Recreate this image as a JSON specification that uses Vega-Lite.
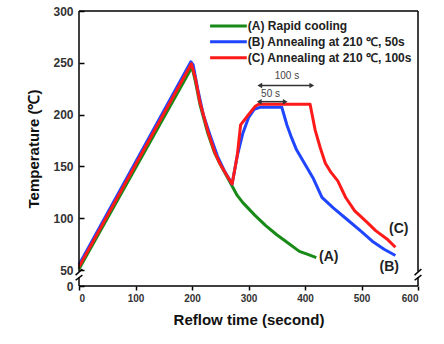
{
  "$schema": "https://vega.github.io/schema/vega-lite/v6.json",
  "autosize": {"type": "none"},
  "padding": {"left": 79, "top": 11, "right": 26, "bottom": 58},
  "width": 339,
  "height": 275,
  "background": "white",
  "config": {
    "view": {"stroke": null},
    "font": "Liberation Sans"
  },
  "datasets": {
    "curves": [
      {"t": 0, "temp": 51, "s": "A"}, {"t": 200, "temp": 246, "s": "A"}, {"t": 206, "temp": 232, "s": "A"}, {"t": 214, "temp": 210, "s": "A"}, {"t": 228, "temp": 182, "s": "A"}, {"t": 240, "temp": 163, "s": "A"}, {"t": 250, "temp": 152, "s": "A"}, {"t": 262, "temp": 140, "s": "A"}, {"t": 270, "temp": 132, "s": "A"}, {"t": 280, "temp": 122, "s": "A"}, {"t": 290, "temp": 115, "s": "A"}, {"t": 311, "temp": 103, "s": "A"}, {"t": 330, "temp": 93, "s": "A"}, {"t": 350, "temp": 84, "s": "A"}, {"t": 370, "temp": 76, "s": "A"}, {"t": 390, "temp": 68, "s": "A"}, {"t": 405, "temp": 65, "s": "A"}, {"t": 420, "temp": 62, "s": "A"},
      {"t": 0, "temp": 55, "s": "B"}, {"t": 198, "temp": 251, "s": "B"}, {"t": 202, "temp": 248, "s": "B"}, {"t": 210, "temp": 225, "s": "B"}, {"t": 220, "temp": 200, "s": "B"}, {"t": 232, "temp": 180, "s": "B"}, {"t": 245, "temp": 160, "s": "B"}, {"t": 258, "temp": 145, "s": "B"}, {"t": 271, "temp": 133, "s": "B"}, {"t": 280, "temp": 160, "s": "B"}, {"t": 290, "temp": 182, "s": "B"}, {"t": 300, "temp": 197, "s": "B"}, {"t": 310, "temp": 205, "s": "B"}, {"t": 320, "temp": 207, "s": "B"}, {"t": 359, "temp": 207, "s": "B"}, {"t": 368, "temp": 190, "s": "B"}, {"t": 376, "temp": 178, "s": "B"}, {"t": 385, "temp": 166, "s": "B"}, {"t": 400, "temp": 152, "s": "B"}, {"t": 415, "temp": 138, "s": "B"}, {"t": 430, "temp": 120, "s": "B"}, {"t": 450, "temp": 110, "s": "B"}, {"t": 474, "temp": 99, "s": "B"}, {"t": 500, "temp": 87, "s": "B"}, {"t": 521, "temp": 77, "s": "B"}, {"t": 540, "temp": 70, "s": "B"}, {"t": 560, "temp": 64, "s": "B"},
      {"t": 0, "temp": 53, "s": "C"}, {"t": 199, "temp": 249, "s": "C"}, {"t": 206, "temp": 235, "s": "C"}, {"t": 214, "temp": 212, "s": "C"}, {"t": 228, "temp": 184, "s": "C"}, {"t": 240, "temp": 164, "s": "C"}, {"t": 250, "temp": 152, "s": "C"}, {"t": 262, "temp": 141, "s": "C"}, {"t": 271, "temp": 133, "s": "C"}, {"t": 280, "temp": 160, "s": "C"}, {"t": 286, "temp": 190, "s": "C"}, {"t": 300, "temp": 200, "s": "C"}, {"t": 312, "temp": 208, "s": "C"}, {"t": 318, "temp": 210, "s": "C"}, {"t": 409, "temp": 210, "s": "C"}, {"t": 418, "temp": 185, "s": "C"}, {"t": 427, "temp": 168, "s": "C"}, {"t": 436, "temp": 153, "s": "C"}, {"t": 445, "temp": 145, "s": "C"}, {"t": 458, "temp": 136, "s": "C"}, {"t": 472, "temp": 120, "s": "C"}, {"t": 488, "temp": 107, "s": "C"}, {"t": 500, "temp": 101, "s": "C"}, {"t": 510, "temp": 96, "s": "C"}, {"t": 525, "temp": 88, "s": "C"}, {"t": 545, "temp": 80, "s": "C"}, {"t": 560, "temp": 72, "s": "C"}
    ],
    "legend": [
      {"s": "A", "x1": 232, "x2": 297, "y": 285.6, "label": "(A) Rapid cooling"},
      {"s": "B", "x1": 232, "x2": 297, "y": 270.2, "label": "(B) Annealing at 210 ℃, 50s"},
      {"s": "C", "x1": 232, "x2": 297, "y": 254.8, "label": "(C) Annealing at 210 ℃, 100s"}
    ],
    "tags": [
      {"x": 442, "y": 62.6, "label": "(A)"},
      {"x": 549, "y": 53, "label": "(B)"},
      {"x": 566, "y": 89.4, "label": "(C)"}
    ],
    "arrows": [
      {"x1": 320, "x2": 412, "y": 228, "tx": 368, "ty": 237, "label": "100 s"},
      {"x1": 319, "x2": 365, "y": 212.5, "tx": 339, "ty": 220, "label": "50 s"}
    ],
    "frame": [
      {"x1": 0, "x2": 0, "y1": 0, "y2": 27},
      {"x1": 0, "x2": 0, "y1": 45, "y2": 300},
      {"x1": 600, "x2": 600, "y1": 0, "y2": 27},
      {"x1": 600, "x2": 600, "y1": 45, "y2": 300},
      {"x1": 0, "x2": 600, "y1": 300, "y2": 300},
      {"x1": 0, "x2": 600, "y1": 0, "y2": 0}
    ],
    "slashes": [
      {"x1": -6, "y1": 18, "x2": 6, "y2": 34},
      {"x1": -6, "y1": 34, "x2": 6, "y2": 51},
      {"x1": 594, "y1": 18, "x2": 606, "y2": 34},
      {"x1": 594, "y1": 34, "x2": 606, "y2": 51}
    ]
  },
  "layer": [
    {
      "data": {"name": "curves"},
      "mark": {"type": "line", "strokeWidth": 3, "strokeJoin": "round", "clip": false},
      "encoding": {
        "x": {
          "field": "t", "type": "quantitative",
          "scale": {"domain": [0, 600], "nice": false, "zero": false},
          "axis": {
            "title": "Reflow time (second)", "values": [0, 50, 100, 150, 200, 250, 300, 350, 400, 450, 500, 550, 600],
            "labelExpr": "datum.value % 100 === 0 ? datum.label : ''",
            "grid": false, "domain": false, "tickColor": "black", "tickWidth": 1.5, "tickSize": 4,
            "labelFontSize": 10, "labelFontWeight": "bold", "labelColor": "#333", "labelPadding": 3,
            "titleFontSize": 15, "titleFontWeight": "bold", "titleColor": "#111", "titlePadding": 9
          }
        },
        "y": {
          "field": "temp", "type": "quantitative",
          "scale": {"domain": [0, 50, 300], "range": [275, 259, 0], "nice": false, "zero": false},
          "axis": {
            "title": "Temperature (℃)", "values": [0, 50, 100, 150, 200, 250, 300],
            "grid": false, "domain": false, "tickColor": "black", "tickWidth": 1.5, "tickSize": -5,
            "labelFontSize": 12, "labelFontWeight": "bold", "labelColor": "#333", "labelPadding": 11,
            "titleFontSize": 15, "titleFontWeight": "bold", "titleColor": "#111", "titlePadding": 11
          }
        },
        "color": {
          "field": "s", "type": "nominal",
          "scale": {"domain": ["A", "B", "C"], "range": ["#188a18", "#1f45ff", "#ff1a1a"]},
          "legend": null
        },
        "order": {"field": "t", "type": "quantitative"}
      }
    },
    {
      "data": {"name": "frame"},
      "mark": {"type": "rule", "strokeWidth": 1.5, "color": "black"},
      "encoding": {
        "x": {"field": "x1", "type": "quantitative"},
        "x2": {"field": "x2"},
        "y": {"field": "y1", "type": "quantitative"},
        "y2": {"field": "y2"}
      }
    },
    {
      "data": {"name": "legend"},
      "mark": {"type": "rule", "strokeWidth": 3},
      "encoding": {
        "x": {"field": "x1", "type": "quantitative"},
        "x2": {"field": "x2"},
        "y": {"field": "y", "type": "quantitative"},
        "color": {"field": "s", "type": "nominal", "legend": null}
      }
    },
    {
      "data": {"name": "legend"},
      "mark": {"type": "text", "align": "left", "baseline": "middle", "fontSize": 12, "fontWeight": "bold", "color": "#222", "dx": 1},
      "encoding": {
        "x": {"field": "x2", "type": "quantitative"},
        "y": {"field": "y", "type": "quantitative"},
        "text": {"field": "label"}
      }
    },
    {
      "data": {"name": "tags"},
      "mark": {"type": "text", "align": "center", "baseline": "middle", "fontSize": 14, "fontWeight": "bold", "color": "#222"},
      "encoding": {
        "x": {"field": "x", "type": "quantitative"},
        "y": {"field": "y", "type": "quantitative"},
        "text": {"field": "label"}
      }
    },
    {
      "data": {"name": "arrows"},
      "mark": {"type": "rule", "strokeWidth": 1.5, "color": "#333"},
      "encoding": {
        "x": {"field": "x1", "type": "quantitative"},
        "x2": {"field": "x2"},
        "y": {"field": "y", "type": "quantitative"}
      }
    },
    {
      "data": {"name": "arrows"},
      "mark": {"type": "point", "shape": "triangle-left", "filled": true, "size": 30, "color": "#333", "opacity": 1},
      "encoding": {
        "x": {"field": "x1", "type": "quantitative"},
        "y": {"field": "y", "type": "quantitative"}
      }
    },
    {
      "data": {"name": "arrows"},
      "mark": {"type": "point", "shape": "triangle-right", "filled": true, "size": 30, "color": "#333", "opacity": 1},
      "encoding": {
        "x": {"field": "x2", "type": "quantitative"},
        "y": {"field": "y", "type": "quantitative"}
      }
    },
    {
      "data": {"name": "arrows"},
      "mark": {"type": "text", "align": "center", "baseline": "middle", "fontSize": 10, "color": "#444"},
      "encoding": {
        "x": {"field": "tx", "type": "quantitative"},
        "y": {"field": "ty", "type": "quantitative"},
        "text": {"field": "label"}
      }
    },
    {
      "data": {"name": "slashes"},
      "mark": {"type": "rule", "strokeWidth": 1.5, "color": "black"},
      "encoding": {
        "x": {"field": "x1", "type": "quantitative"},
        "x2": {"field": "x2"},
        "y": {"field": "y1", "type": "quantitative"},
        "y2": {"field": "y2"}
      }
    }
  ]
}
